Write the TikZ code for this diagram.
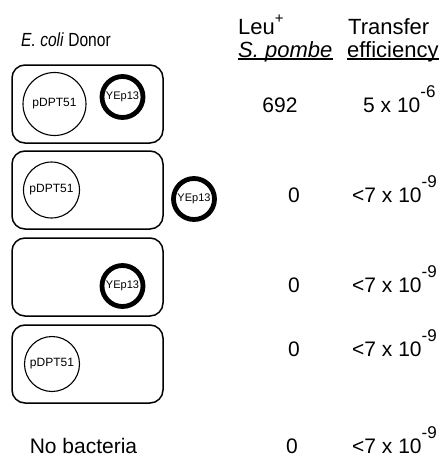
\documentclass[tikz,border=0pt]{standalone}
\usepackage{fontspec}
\setmainfont{Liberation Sans}
\newcommand\expo[1]{\raisebox{15pt}{\fontsize{17}{17}\selectfont #1}}
\newcommand\plusup{\raisebox{11pt}{\fontsize{15}{15}\selectfont +}}
\begin{document}
\begin{tikzpicture}[x=1pt,y=-1pt,
  cell/.style={draw, line width=1.5pt, rounded corners=13pt, minimum width=151pt, minimum height=78pt, inner sep=0pt},
  pdpt/.style={draw, circle, line width=1.1pt, inner sep=0pt, font=\fontsize{12}{12}\selectfont},
  yep/.style={draw, circle, line width=4.8pt, minimum size=41pt, inner sep=0pt, font=\fontsize{11}{11}\selectfont},
  val/.style={font=\fontsize{21}{21}\selectfont, inner sep=0pt, anchor=base},
  hdr/.style={font=\fontsize{22}{22}\selectfont, inner sep=0pt, anchor=base west},
  eff/.style={font=\fontsize{21}{21}\selectfont, inner sep=0pt, anchor=base west},
  uline/.style={line width=1.8pt}
]
\useasboundingbox (0,0) rectangle (445,460);
% header
\node[font=\fontsize{19}{19}\selectfont, inner sep=0pt, anchor=base, xscale=0.82] (donor) at (66,47) {\textit{E. coli} Donor};
\node[hdr] (leu) at (238,35) {Leu\plusup};
\node[hdr] (pombe) at (238,58) {\textit{S. pombe}};
\node[hdr] (transfer) at (348,35) {Transfer};
\node[hdr] (effic) at (347,58) {efficiency};
\coordinate (ua) at ([yshift=4pt]pombe.south west);
\coordinate (ub) at ([yshift=4pt]pombe.south east);
\coordinate (uc) at ([yshift=4pt]effic.south west);
\coordinate (ud) at ([yshift=4pt]effic.south east);
\draw[uline] (ua) -- (ub);
\draw[uline] (uc) -- (ud);
% cells
\node[cell] (c1) at (87.5,104) {};
\node[cell] (c2) at (87.5,190) {};
\node[cell] (c3) at (87.5,277) {};
\node[cell] (c4) at (87.5,364) {};
% plasmids
\node[pdpt, minimum size=63pt] (p1) at (54.5,104) {pDPT51};
\node[yep] (y1) at (122.5,97) {YEp13};
\node[pdpt, minimum size=56pt] (p2) at (51.5,190) {pDPT51};
\node[yep] (y2) at (194,199) {YEp13};
\node[yep] (y3) at (122.5,286) {YEp13};
\node[pdpt, minimum size=55pt] (p4) at (52,364) {pDPT51};
% last row label
\node[val] (nob) at (83.5,453) {No bacteria};
% numbers
\node[val] (n1) at (280,112) {692};
\node[val] (n2) at (294,202) {0};
\node[val] (n3) at (294,292) {0};
\node[val] (n4) at (294,356) {0};
\node[val] (n5) at (292,453) {0};
\node[eff] (e1) at (363,112) {5 x 10\expo{-6}};
\node[eff] (e2) at (352,202) {<7 x 10\expo{-9}};
\node[eff] (e3) at (352,292) {<7 x 10\expo{-9}};
\node[eff] (e4) at (352,356) {<7 x 10\expo{-9}};
\node[eff] (e5) at (352,453) {<7 x 10\expo{-9}};
\end{tikzpicture}
\end{document}
